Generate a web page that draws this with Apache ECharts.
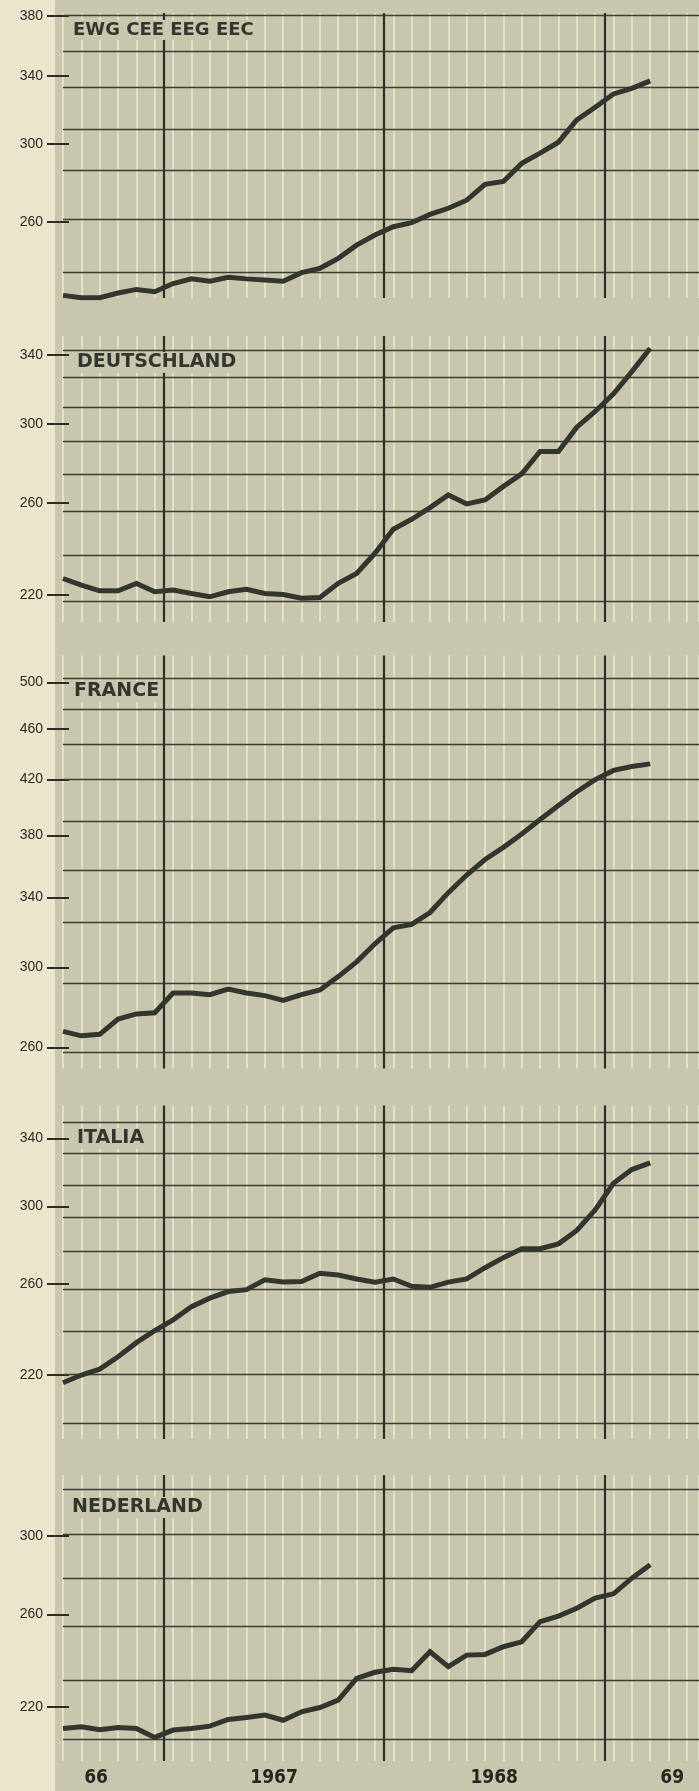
<!DOCTYPE html>
<html>
<head>
<meta charset="utf-8">
<script src="https://cdn.jsdelivr.net/npm/echarts@6/dist/echarts.min.js"></script>
<style>
html,body{margin:0;padding:0;background:#ebe5cb;}
#c{width:699px;height:1791px;}
</style>
</head>
<body>
<div id="c"></div>
<script>
// ---- DATA ----
const months = [7,8,9,10,11,12,13,14,15,16,17,18,19,20,21,22,23,24,25,26,27,28,29,30,31,32,33,34,35,36,37,38,39]; // Jan 1966 = 1

const panelNames = ['EWG CEE EEG EEC', 'DEUTSCHLAND', 'FRANCE', 'ITALIA', 'NEDERLAND'];

const ewg = [227, 226, 226, 228, 229.5, 228.5, 232, 234, 233, 234.7, 234, 233.5, 233, 236.7, 238.6, 243, 249, 253.7, 257.6, 259.5, 263.5, 266.5, 270.5, 278.5, 280, 289.5, 295, 301, 313.6, 321, 329, 332.4, 337];
const deutschland = [226.7, 224, 221.7, 221.7, 224.7, 221.3, 222, 220.6, 219.3, 221.3, 222.3, 220.6, 220.2, 218.7, 219, 224.7, 228.8, 237.3, 247.9, 252.4, 257.8, 263.8, 259.5, 261.4, 267.9, 274.1, 285.4, 285.4, 298.3, 306.9, 316.9, 329.9, 344.2];
const france = [267.5, 265.4, 266.1, 273.5, 276, 276.6, 286.5, 286.6, 285.7, 288.6, 286.6, 285.2, 282.8, 285.7, 288.1, 295.1, 303, 313, 322, 324, 331, 343, 354, 364, 372, 381, 391, 401, 411, 420, 427, 430, 432];
const italia = [216.9, 220, 222.4, 227.5, 233.5, 238.7, 243.5, 249.5, 253.4, 256.5, 257.4, 262.1, 261.1, 261.3, 265.3, 264.4, 262.5, 261, 262.5, 259, 258.5, 261, 262.5, 268, 273, 277.5, 277.5, 280, 287, 298, 313, 321, 325];
const nederland = [211.5, 212.2, 211, 211.9, 211.5, 208.1, 210.9, 211.5, 212.4, 215, 215.8, 216.7, 214.7, 218, 219.7, 222.7, 231.6, 234.2, 235.5, 234.9, 243.1, 236.6, 241.6, 241.9, 245.3, 247.5, 256.7, 259.3, 263, 267.9, 270, 277.8, 284.6];

const ewgTicks = [260, 300, 340, 380];
const deTicks = [220, 260, 300, 340];
const frTicks = [260, 300, 340, 380, 420, 460, 500];
const itTicks = [220, 260, 300, 340];
const nlTicks = [220, 260, 300];

// printed (log-paper) horizontal rulings of each panel
const ewgRules = [380, 356, 333, 308.4, 285.8, 261.4, 237];
const deRules = [343.1, 326.5, 309.2, 290.9, 273.8, 256.3, 236.6, 217.4];
const frRules = [504, 476.4, 447.4, 420.5, 389.9, 357.2, 325, 291.5, 257.5];
const itRules = [350, 331, 312, 293.8, 276.4, 257.6, 238.3, 220.4, 201.5];
const nlRules = [326.5, 301, 277.7, 254.7, 231, 207.4];

const yearBounds = [12.5, 24.5, 36.5];
const yearLabels = ['66', '1967', '1968', '69'];
const yearLabelPos = [8.8, 18.5, 30.5, 40.2];

// ---- LAYOUT ----
const X_MIN = 7, X_MAX = 41.66;
const layout = [
  {top: 13,     height: 285,   min: 225.9, max: 381.9, title: {left: 70, top: 20, size: 18}},
  {top: 336,    height: 286,   min: 209.5, max: 351.9, title: {left: 74, top: 352, size: 19}},
  {top: 655.5,  height: 413,   min: 250.3, max: 524.6, title: {left: 71, top: 681, size: 19}},
  {top: 1105.5, height: 333.5, min: 195.6, max: 361.1, title: {left: 74, top: 1128, size: 19}},
  {top: 1475,   height: 286,   min: 199.4, max: 334.9, title: {left: 69, top: 1497, size: 19}}
];

const seriesValues = [ewg, deutschland, france, italia, nederland];
const tickSets = [ewgTicks, deTicks, frTicks, itTicks, nlTicks];
const ruleSets = [ewgRules, deRules, frRules, itRules, nlRules];

const STRIP = '#c8c6ad';
const INK = '#33362f';

const chart = echarts.init(document.getElementById('c'), null, {renderer: 'canvas'});

const grids = [], xAxes = [], yAxes = [], series = [], titles = [];
layout.forEach((L, i) => {
  grids.push({left: 63, right: 0, top: L.top, height: L.height, containLabel: false, outerBoundsMode: 'none'});
  const isLast = i === layout.length - 1;
  xAxes.push({
    type: 'value', gridIndex: i, min: X_MIN, max: X_MAX, interval: 1,
    axisLine: {show: false}, axisTick: {show: false},
    axisLabel: isLast ? {
      show: true, customValues: yearLabelPos, margin: 8,
      fontSize: 19, fontWeight: 'bold',
      fontFamily: '"Liberation Sans Narrow", "DejaVu Sans Condensed", "Liberation Sans", sans-serif',
      color: '#262622',
      formatter: v => { const k = yearLabelPos.findIndex(p => Math.abs(p - v) < 1e-6); return k >= 0 ? yearLabels[k] : ''; }
    } : {show: false},
    splitLine: {show: true, lineStyle: {color: '#ebe8d1', width: 1.6}}
  });
  yAxes.push({
    type: 'log', logBase: 10, gridIndex: i, min: L.min, max: L.max,
    position: 'left', offset: -6,
    axisLine: {show: false},
    axisTick: {show: true, customValues: tickSets[i], length: 22, lineStyle: {color: '#2a2a26', width: 2}},
    axisLabel: {show: true, customValues: tickSets[i], margin: 26, fontSize: 14,
      fontFamily: '"Liberation Sans", Arial, sans-serif', color: '#2a2a26',
      formatter: v => String(Math.round(v))},
    splitLine: {show: false}
  });
  series.push({
    type: 'line', xAxisIndex: i, yAxisIndex: i, data: [], silent: true, z: 1,
    markLine: {
      silent: true, symbol: 'none', animation: false, z: 1,
      label: {show: false},
      lineStyle: {color: '#3a3d36', width: 1.3, type: 'solid'},
      emphasis: {disabled: true},
      data: ruleSets[i].map(v => ({yAxis: v}))
        .concat(yearBounds.map(v => ({xAxis: v, lineStyle: {color: '#2c2f29', width: 2.2, type: 'solid'}})))
    }
  });
  series.push({
    type: 'line', name: panelNames[i], xAxisIndex: i, yAxisIndex: i, z: 6,
    data: months.map((m, j) => [m, seriesValues[i][j]]),
    showSymbol: false, symbol: 'none', silent: true, animation: false,
    lineStyle: {color: INK, width: 5, join: 'miter', cap: 'butt'}
  });
  titles.push({
    text: panelNames[i], left: L.title.left, top: L.title.top, padding: [1, 3],
    backgroundColor: STRIP, z: 8,
    textStyle: {fontSize: L.title.size, fontWeight: 'bold', fontFamily: '"DejaVu Sans", sans-serif', color: '#33362f'}
  });
});

chart.setOption({
  animation: false,
  backgroundColor: 'transparent',
  title: titles,
  graphic: [{type: 'rect', z: -10, silent: true, shape: {x: 55, y: 0, width: 644, height: 1791}, style: {fill: STRIP}}],
  grid: grids, xAxis: xAxes, yAxis: yAxes, series: series
});
</script>
</body>
</html>
